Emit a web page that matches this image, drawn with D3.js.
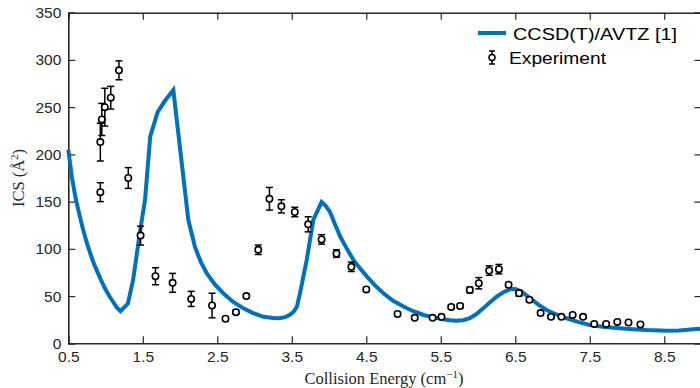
<!DOCTYPE html>
<html>
<head>
<meta charset="utf-8">
<script src="https://cdn.jsdelivr.net/npm/d3@7"></script>
<style>
  body { margin: 0; background: #fff; }
  .tick text { font-family: "Liberation Sans", Arial, sans-serif; font-size: 15.5px; fill: #262626; }
  .axis path, .axis line { stroke: #262626; }
</style>
</head>
<body>
<svg id="chart" width="700" height="388"></svg>
<script>
// theory curve, CCSD(T)/AVTZ [1]
var theoryE = [0.50, 0.55, 0.60, 0.65, 0.70, 0.75, 0.80, 0.85, 0.90, 0.95, 1.00, 1.05, 1.10, 1.15, 1.20,
  1.30, 1.37, 1.46, 1.53, 1.60, 1.70, 1.80, 1.91,
  2.08, 2.11, 2.20, 2.28, 2.36, 2.47, 2.58, 2.71, 2.85, 2.98, 3.12, 3.25, 3.34, 3.42, 3.48, 3.53, 3.57,
  3.61, 3.70, 3.79, 3.90, 3.95, 4.01, 4.08, 4.15, 4.24, 4.33, 4.42, 4.51, 4.62, 4.73, 4.86, 5.00, 5.13,
  5.27, 5.40, 5.53, 5.62, 5.71, 5.80, 5.89, 5.98, 6.07, 6.16, 6.25, 6.34, 6.43, 6.50, 6.58, 6.70, 6.81,
  6.92, 7.05, 7.19, 7.34, 7.50, 7.70, 7.90, 8.08, 8.26, 8.53, 8.70, 8.89, 9.00];
var theoryICS = [205, 175, 153, 136, 120, 106, 94, 83, 74, 65, 57, 50, 44, 38, 34,
  42, 67, 117, 152, 219, 245, 257, 268,
  152, 131, 102, 86, 74, 62, 53, 44, 37, 32, 28, 26.8, 26.5, 28, 30.5, 34, 39,
  53, 88, 131, 149.5, 146, 139.5, 126, 113, 100, 88, 79, 70.6, 61, 53, 45, 39, 34,
  30, 27.4, 25.4, 24.3, 23.8, 24.5, 26.5, 31, 37, 43.5, 49.4, 54, 57.2, 57.5, 55, 47.7, 41,
  35.3, 30.5, 26.5, 22.6, 19.4, 17.3, 15.9, 14.9, 14.1, 13.4, 13.6, 14.8, 15.5];

// experiment
var expE = [0.93, 0.93, 0.95, 0.99, 1.07, 1.18, 1.305, 1.47, 1.67, 1.90, 2.15, 2.43, 2.61, 2.75, 2.89, 3.05,
  3.20, 3.36, 3.54, 3.72, 3.90, 4.10, 4.30, 4.50, 4.92, 5.15, 5.39, 5.51, 5.64, 5.76, 5.89, 6.01, 6.15, 6.28,
  6.41, 6.55, 6.69, 6.84, 6.98, 7.12, 7.27, 7.41, 7.56, 7.72, 7.87, 8.02, 8.18];
var expICS = [160, 213, 237, 250, 260, 289, 175, 114, 71, 64, 47, 40, 26, 33, 50, 99,
  153, 145, 139, 126, 110, 95, 81, 57, 31, 27, 27, 28, 38.5, 39.5, 56.5, 63.6, 77, 78.5,
  62, 53, 46, 32, 28, 28, 30, 28, 20.5, 20.5, 22.6, 22, 20];
var expErr = [10, 20, 17, 20, 12, 10, 11, 10, 9, 10, 8, 13, 2, 2, 2, 5,
  12, 7, 5, 8, 5, 4, 5, 2, 2, 1.5, 1.5, 2, 2, 2, 3, 6, 5, 5,
  2, 3, 2, 2, 1.5, 1.5, 1.5, 1.5, 1.5, 1.5, 1.5, 1.5, 1.5];

var xTicks = [0.5, 1.5, 2.5, 3.5, 4.5, 5.5, 6.5, 7.5, 8.5];
var yTicks = [0, 50, 100, 150, 200, 250, 300, 350];

var svg = d3.select('#chart');
var blue = '#0072BD';

var plot = {l: 68.3, r: 701.5, t: 12.7, b: 343.3};

var x = d3.scaleLinear().domain([0.5, 9]).range([plot.l, plot.r]);
var y = d3.scaleLinear().domain([0, 350]).range([plot.b, plot.t]);

// axes, ticks pointing inward on all four sides
svg.append('g').attr('class', 'axis')
  .attr('transform', 'translate(0,' + plot.b + ')')
  .call(d3.axisBottom(x).tickValues(xTicks).tickSize(-7).tickPadding(8).tickFormat(d3.format('.1f')));
svg.append('g').attr('class', 'axis')
  .attr('transform', 'translate(0,' + plot.t + ')')
  .call(d3.axisTop(x).tickValues(xTicks).tickSize(-7).tickFormat(''));
svg.append('g').attr('class', 'axis')
  .attr('transform', 'translate(' + plot.l + ',0)')
  .call(d3.axisLeft(y).tickValues(yTicks).tickSize(-7).tickPadding(7));
svg.append('g').attr('class', 'axis')
  .attr('transform', 'translate(' + plot.r + ',0)')
  .call(d3.axisRight(y).tickValues(yTicks).tickSize(-7).tickFormat(''));

svg.selectAll('.axis path').attr('stroke-width', 1.6);
svg.selectAll('.axis line').attr('stroke-width', 1.2);

// theory line
var line = d3.line().x(function(d, i) { return x(theoryE[i]); }).y(function(d) { return y(d); });
svg.append('path')
  .datum(theoryICS)
  .attr('d', line)
  .attr('fill', 'none')
  .attr('stroke', blue)
  .attr('stroke-width', 4)
  .attr('stroke-linejoin', 'miter');

// experiment with error bars
var pts = expE.map(function(e, i) { return {e: e, v: expICS[i], err: expErr[i]}; });
var eb = svg.append('g').selectAll('g.pt').data(pts).enter().append('g').attr('class', 'pt');
eb.append('line')
  .attr('x1', function(d) { return x(d.e); }).attr('x2', function(d) { return x(d.e); })
  .attr('y1', function(d) { return y(d.v - d.err); }).attr('y2', function(d) { return y(d.v + d.err); })
  .attr('stroke', '#000').attr('stroke-width', 1.5);
[-1, 1].forEach(function(s) {
  eb.append('line')
    .attr('x1', function(d) { return x(d.e) - 3.5; }).attr('x2', function(d) { return x(d.e) + 3.5; })
    .attr('y1', function(d) { return y(d.v + s * d.err); }).attr('y2', function(d) { return y(d.v + s * d.err); })
    .attr('stroke', '#000').attr('stroke-width', 1.5);
});
eb.append('circle')
  .attr('cx', function(d) { return x(d.e); })
  .attr('cy', function(d) { return y(d.v); })
  .attr('r', 3.2)
  .attr('fill', '#fff')
  .attr('stroke', '#000')
  .attr('stroke-width', 1.6);

// legend
var lg = svg.append('g');
lg.append('line').attr('x1', 478).attr('x2', 506).attr('y1', 33).attr('y2', 33)
  .attr('stroke', blue).attr('stroke-width', 4);
lg.append('text').attr('x', 513).attr('y', 40).text('CCSD(T)/AVTZ [1]')
  .attr('textLength', 164).attr('lengthAdjust', 'spacingAndGlyphs')
  .style('font-family', '"Liberation Sans", Arial, sans-serif').style('font-size', '17px').style('fill', '#000');
lg.append('line').attr('x1', 492).attr('x2', 492).attr('y1', 51).attr('y2', 64).attr('stroke', '#000').attr('stroke-width', 1.5);
lg.append('line').attr('x1', 489).attr('x2', 495).attr('y1', 51).attr('y2', 51).attr('stroke', '#000').attr('stroke-width', 1.5);
lg.append('line').attr('x1', 489).attr('x2', 495).attr('y1', 64).attr('y2', 64).attr('stroke', '#000').attr('stroke-width', 1.5);
lg.append('circle').attr('cx', 492).attr('cy', 57.5).attr('r', 3).attr('fill', '#fff').attr('stroke', '#000').attr('stroke-width', 1.5);
lg.append('text').attr('x', 509).attr('y', 64).text('Experiment')
  .attr('textLength', 97).attr('lengthAdjust', 'spacingAndGlyphs')
  .style('font-family', '"Liberation Sans", Arial, sans-serif').style('font-size', '17px').style('fill', '#000');

// axis labels (LaTeX-looking serif)
var xl = svg.append('text')
  .attr('x', 384).attr('y', 384)
  .attr('text-anchor', 'middle')
  .style('font-family', '"Liberation Serif", "DejaVu Serif", serif').style('font-size', '16.5px').style('fill', '#262626');
xl.append('tspan').text('Collision Energy (cm');
xl.append('tspan').attr('dy', -6).style('font-size', '11px').text('\u22121');
xl.append('tspan').attr('dy', 6).text(')');

var yl = svg.append('text')
  .attr('transform', 'translate(24,' + ((plot.t + plot.b) / 2) + ')rotate(-90)')
  .attr('text-anchor', 'middle')
  .style('font-family', '"Liberation Serif", "DejaVu Serif", serif').style('font-size', '16.5px').style('fill', '#262626');
yl.append('tspan').text('ICS (\u00C5');
yl.append('tspan').attr('dy', -6).style('font-size', '11px').text('2');
yl.append('tspan').attr('dy', 6).text(')');
</script>
</body>
</html>
